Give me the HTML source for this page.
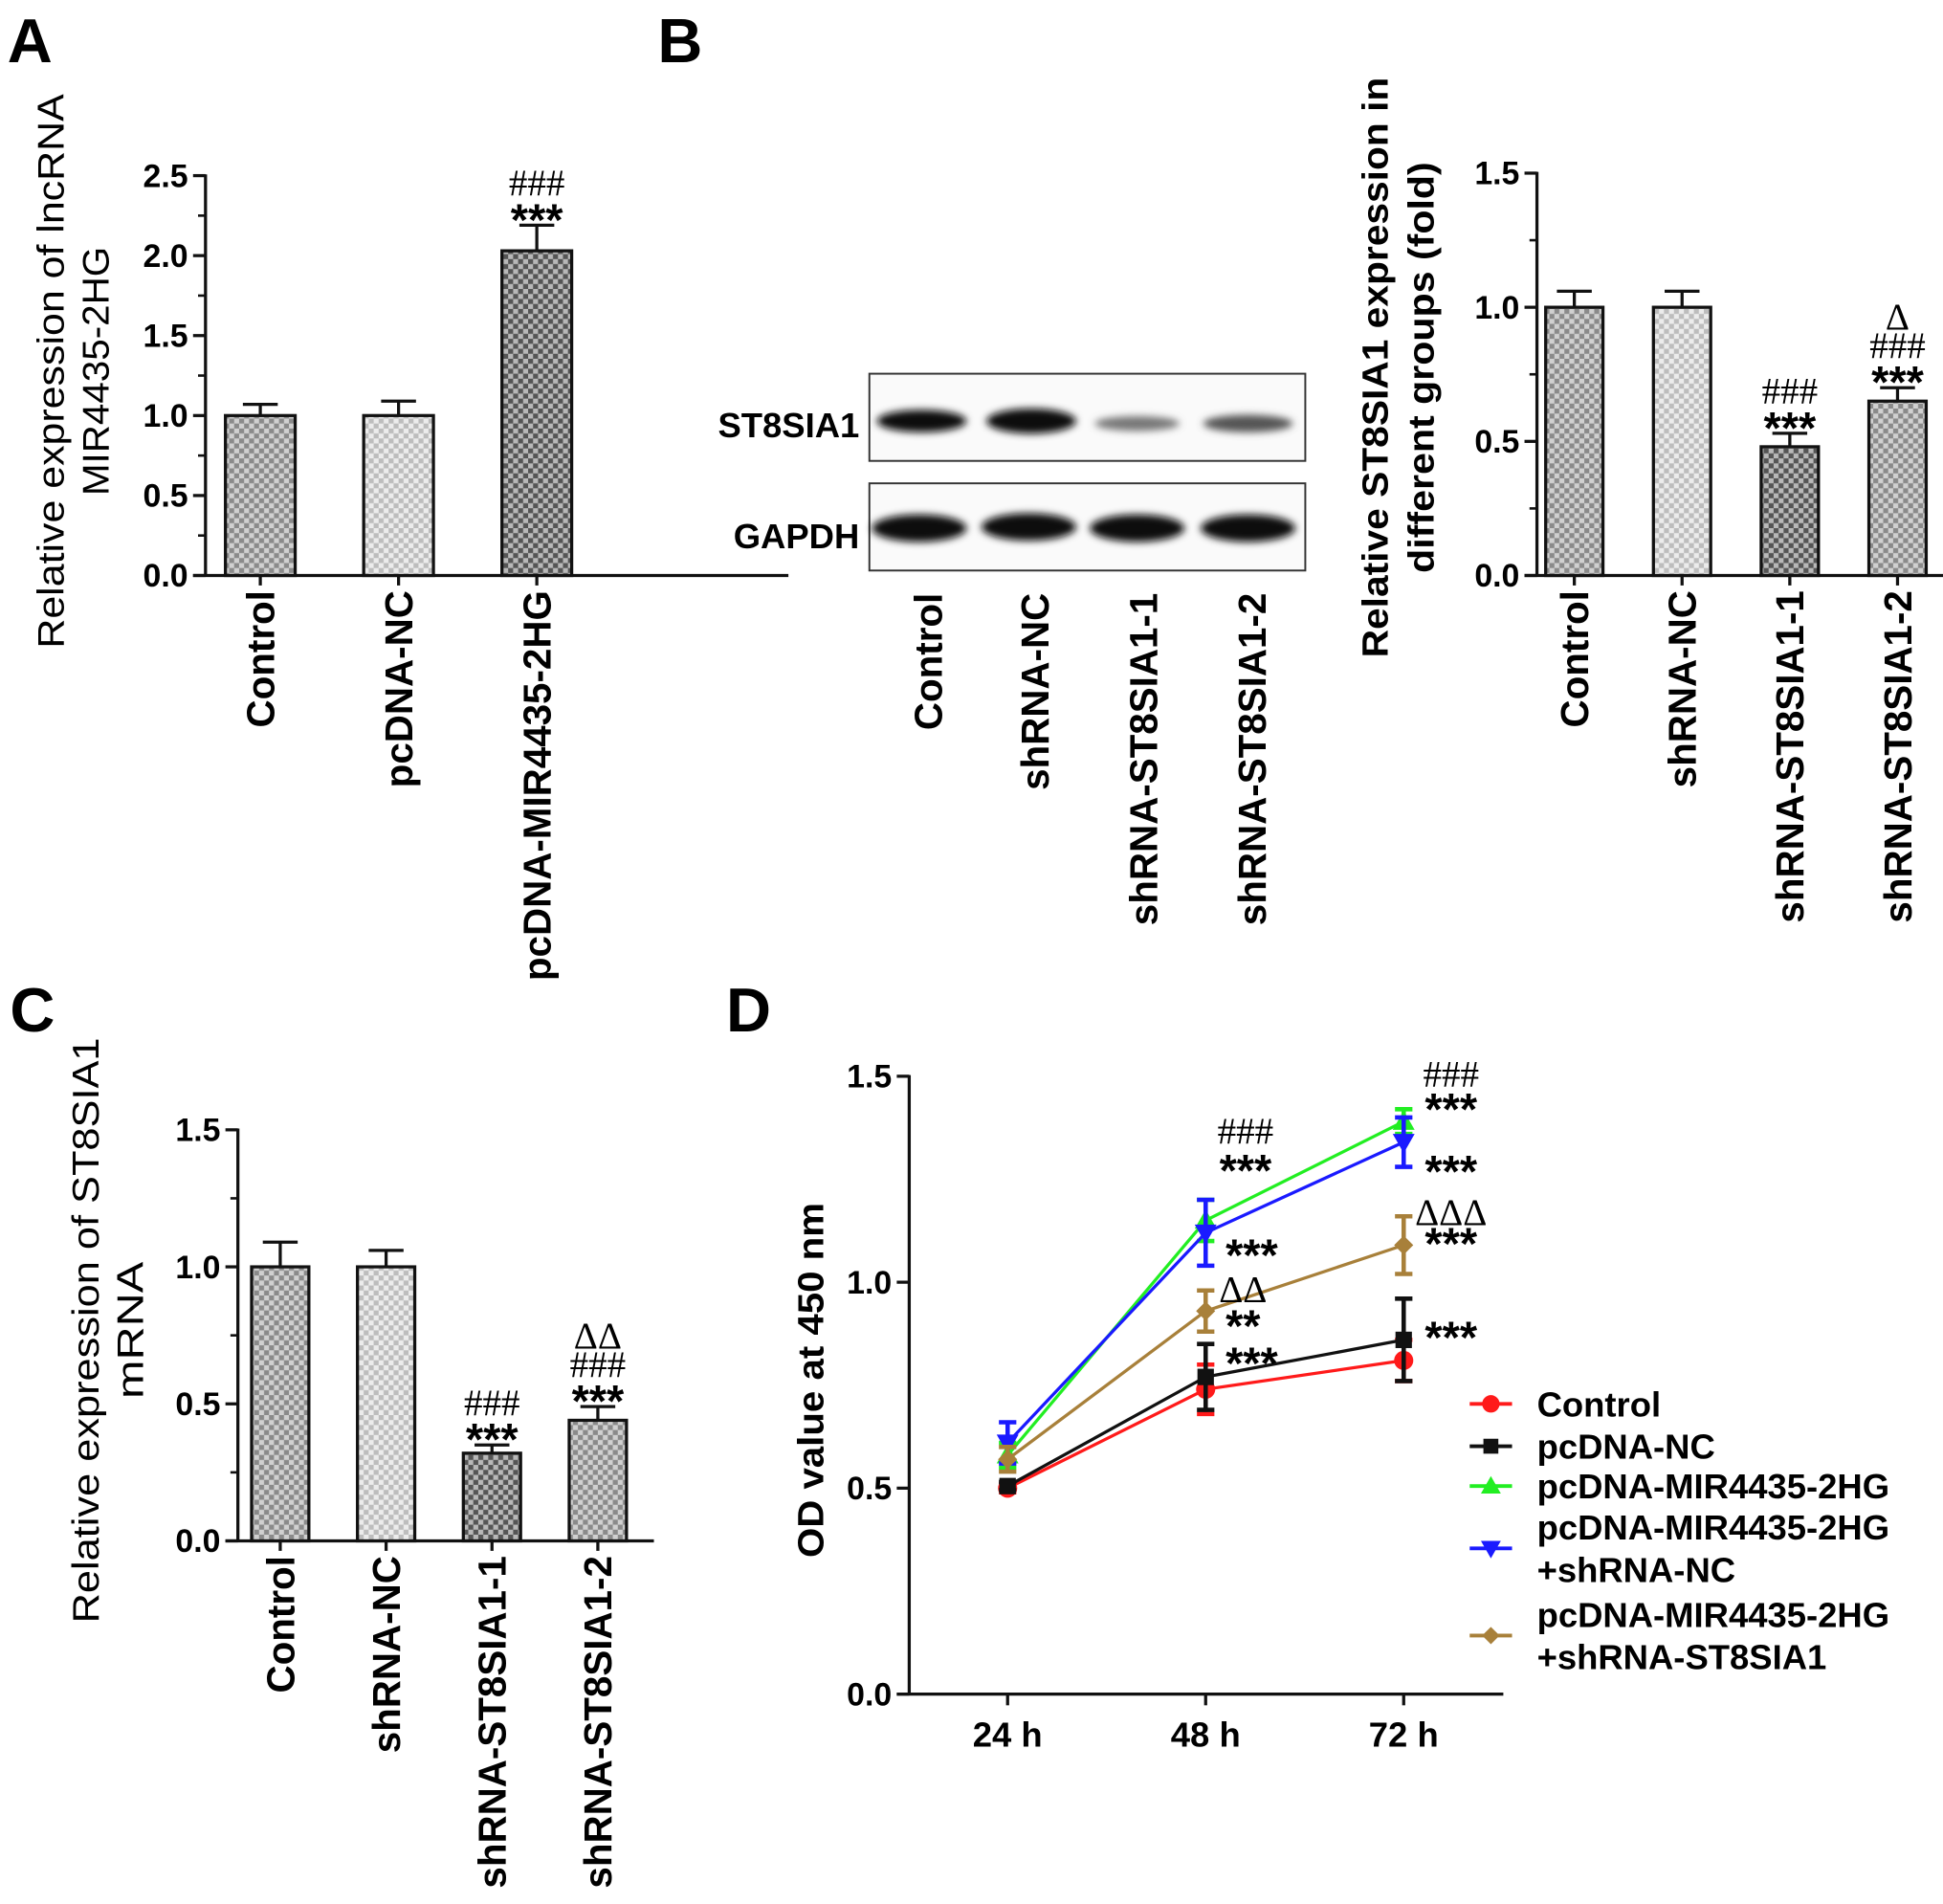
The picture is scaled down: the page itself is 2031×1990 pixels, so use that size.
<!DOCTYPE html>
<html><head><meta charset="utf-8">
<style>
html,body{margin:0;padding:0;background:#fff;}
svg{display:block;font-family:"Liberation Sans",Arial,sans-serif;}
.tick{font-weight:bold;font-size:26px;}
.xl{font-weight:bold;font-size:31px;}
.ttl{font-size:30px;}
.ttlb{font-size:29px;font-weight:bold;}
.pl{font-weight:bold;font-size:50px;}
.ann{font-size:30px;font-family:"Liberation Serif",serif;}
.st{font-size:34px;font-weight:bold;}
</style></head>
<body>
<svg id="fig" width="2031" height="1990" viewBox="0 0 1560 1528.5" xmlns="http://www.w3.org/2000/svg">
<defs>
<pattern id="pMed" width="8" height="8" patternUnits="userSpaceOnUse"><rect width="8" height="8" fill="#d0d0d0"/><rect width="4" height="4" fill="#8a8a8a"/><rect x="4" y="4" width="4" height="4" fill="#8a8a8a"/></pattern>
<pattern id="pLight" width="8" height="8" patternUnits="userSpaceOnUse"><rect width="8" height="8" fill="#ececec"/><rect width="4" height="4" fill="#bdbdbd"/><rect x="4" y="4" width="4" height="4" fill="#bdbdbd"/></pattern>
<pattern id="pDark" width="8" height="8" patternUnits="userSpaceOnUse"><rect width="8" height="8" fill="#b8b8b8"/><rect width="4" height="4" fill="#555"/><rect x="4" y="4" width="4" height="4" fill="#555"/></pattern>
<filter id="blur"><feGaussianBlur stdDeviation="3"/></filter>
</defs>
<text class="pl" x="6" y="50">A</text>
<text class="pl" x="528" y="50">B</text>
<text class="pl" x="8" y="828">C</text>
<text class="pl" x="583" y="828">D</text>

<g>
<rect x="698" y="300" width="350" height="70" fill="#fafafa" stroke="#333" stroke-width="1.5"/>
<rect x="698" y="388" width="350" height="70" fill="#fafafa" stroke="#333" stroke-width="1.5"/>
<text class="st" x="690" y="351" text-anchor="end" style="font-size:28px">ST8SIA1</text>
<text class="st" x="690" y="440" text-anchor="end" style="font-size:28px">GAPDH</text>
<g filter="url(#blur)">
<ellipse cx="740" cy="338" rx="36" ry="9" fill="#111"/>
<ellipse cx="828" cy="338" rx="36" ry="10" fill="#111"/>
<ellipse cx="913" cy="340" rx="34" ry="6" fill="#777"/>
<ellipse cx="1002" cy="340" rx="36" ry="7" fill="#555"/>
<ellipse cx="738" cy="424" rx="38" ry="11" fill="#0a0a0a"/>
<ellipse cx="826" cy="423" rx="38" ry="11" fill="#0a0a0a"/>
<ellipse cx="913" cy="424" rx="38" ry="11" fill="#0a0a0a"/>
<ellipse cx="1002" cy="424" rx="38" ry="11" fill="#0a0a0a"/>
</g>
<text class="xl" transform="translate(756,476) rotate(-90)" text-anchor="end">Control</text>
<text class="xl" transform="translate(842,476) rotate(-90)" text-anchor="end">shRNA-NC</text>
<text class="xl" transform="translate(929,476) rotate(-90)" text-anchor="end">shRNA-ST8SIA1-1</text>
<text class="xl" transform="translate(1016,476) rotate(-90)" text-anchor="end">shRNA-ST8SIA1-2</text>
</g>
<g id="root"></g>
</svg>
<script>
// Panel A data
const aCats = ["Control","pcDNA-NC","pcDNA-MIR4435-2HG"];
const aVals = [1.0, 1.0, 2.03];
const aErr = [0.07, 0.09, 0.16];
const aTicks = ["0.0","0.5","1.0","1.5","2.0","2.5"];
const aAnn = [[], [], ["***","###"]];
// Panel B data
const bCats = ["Control","shRNA-NC","shRNA-ST8SIA1-1","shRNA-ST8SIA1-2"];
const bVals = [1.0, 1.0, 0.48, 0.65];
const bErr = [0.06, 0.06, 0.05, 0.05];
const bTicks = ["0.0","0.5","1.0","1.5"];
const bAnn = [[], [], ["***","###"], ["***","###","\u0394"]];
// Panel C data
const cCats = ["Control","shRNA-NC","shRNA-ST8SIA1-1","shRNA-ST8SIA1-2"];
const cVals = [1.0, 1.0, 0.32, 0.44];
const cErr = [0.09, 0.06, 0.03, 0.05];
const cTicks = ["0.0","0.5","1.0","1.5"];
const cAnn = [[], [], ["***","###"], ["***","###","\u0394\u0394"]];
// Panel D data
const dCats = ["24 h","48 h","72 h"];
const dTicks = ["0.0","0.5","1.0","1.5"];
const dNames = ["Control","pcDNA-NC","pcDNA-MIR4435-2HG","pcDNA-MIR4435-2HG +shRNA-NC","pcDNA-MIR4435-2HG +shRNA-ST8SIA1"];
const dControl = [0.50, 0.74, 0.81];
const dPcNC = [0.505, 0.77, 0.86];
const dMir = [0.58, 1.15, 1.39];
const dMirNC = [0.61, 1.12, 1.34];
const dMirSh = [0.57, 0.93, 1.09];
const dErrControl = [0.01, 0.06, 0.05];
const dErrPcNC = [0.01, 0.08, 0.10];
const dErrMir = [0.03, 0.05, 0.03];
const dErrMirNC = [0.05, 0.08, 0.06];
const dErrMirSh = [0.03, 0.05, 0.07];

const NS="http://www.w3.org/2000/svg";
const root=document.getElementById('root');
function mk(tag,attrs,parent){const e=document.createElementNS(NS,tag);for(const k in attrs)e.setAttribute(k,attrs[k]);(parent||root).appendChild(e);return e;}

function barPanel(cfg){
  const g=mk('g',{});
  
  
  const y=v=>cfg.y0-(v/cfg.ymax)*(cfg.y0-cfg.y1);
  const x=i=>cfg.xs+cfg.step*i;
  const ax=mk('line',{x1:cfg.ax,y1:cfg.y1-1,x2:cfg.ax,y2:cfg.y0,stroke:'#111','stroke-width':2.5},g);
  
  
  const xa=mk('line',{x1:cfg.ax-10,y1:cfg.y0,x2:cfg.xend,y2:cfg.y0,stroke:'#111','stroke-width':2.5},g);
  
  
  const n=cfg.ticks.length;
  for(let i=0;i<n;i++){
    const v=parseFloat(cfg.ticks[i]);
    mk('line',{x1:cfg.ax-10,y1:y(v),x2:cfg.ax,y2:y(v),stroke:'#111','stroke-width':2.5},g);
    if(i<n-1) mk('line',{x1:cfg.ax-6,y1:y(v+cfg.minor),x2:cfg.ax,y2:y(v+cfg.minor),stroke:'#111','stroke-width':2},g);
    const t=mk('text',{x:cfg.ax-14,y:y(v)+9,'text-anchor':'end','class':'tick'},g);
    t.textContent=cfg.ticks[i];
    
    
  }
  for(let i=0;i<cfg.cats.length;i++){
    const cx=x(i),top=y(cfg.vals[i]),et=y(cfg.vals[i]+cfg.err[i]);
    mk('line',{x1:cx,y1:top,x2:cx,y2:et,stroke:'#111','stroke-width':2.5},g);
    mk('line',{x1:cx-14,y1:et,x2:cx+14,y2:et,stroke:'#111','stroke-width':2.5},g);
    const r=mk('rect',{x:cx-cfg.bw/2,y:top,width:cfg.bw,height:cfg.y0-top,fill:'url(#'+cfg.fills[i]+')',stroke:'#111','stroke-width':2.5},g);
    
    
    mk('line',{x1:cx,y1:cfg.y0,x2:cx,y2:cfg.y0+8,stroke:'#111','stroke-width':2.5},g);
    const l=mk('text',{transform:'translate('+(cx+11)+','+(cfg.y0+12)+') rotate(-90)','text-anchor':'end','class':'xl'},g);
    l.textContent=cfg.cats[i];
    
    
    const an=cfg.ann[i];
    const offs=[8,-24,-47];
    for(let k=0;k<an.length;k++){
      const s=an[k];
      const isStar=s[0]==='*';
      const a=mk('text',{x:cx,y:et+offs[k],'text-anchor':'middle','class':isStar?'tick':'ann',style:isStar?'font-size:36px':''},g);
      a.textContent=s;
      
      
    }
  }
  cfg.title.forEach((ln,j)=>{
    const t=mk('text',{transform:'translate('+(cfg.tx+j*cfg.tdx)+','+cfg.ty+') rotate(-90)','text-anchor':'middle','class':cfg.tcls,textLength:cfg.tlen[j],lengthAdjust:'spacingAndGlyphs'},g);
    t.textContent=ln;
    
    
  });
}

barPanel({name:'panel-a-chart',cats:aCats,vals:aVals,err:aErr,ticks:aTicks,ann:aAnn,ymax:2.5,minor:0.25,
  ax:165,y0:462,y1:141,xend:633,xs:209,step:111,bw:56,fills:['pMed','pLight','pDark'],
  title:['Relative expression of lncRNA','MIR4435-2HG'],tlen:[445,200],tx:51,tdx:36,ty:298,tcls:'ttl'});
barPanel({name:'panel-b-chart',cats:bCats,vals:bVals,err:bErr,ticks:bTicks,ann:bAnn,ymax:1.5,minor:0.25,
  ax:1234,y0:462,y1:139,xend:1560,xs:1264,step:86.5,bw:46,fills:['pMed','pLight','pDark','pMed'],
  title:['Relative ST8SIA1 expression in','different groups (fold)'],tlen:[466,330],tx:1114,tdx:37,ty:295,tcls:'ttlb'});
barPanel({name:'panel-c-chart',cats:cCats,vals:cVals,err:cErr,ticks:cTicks,ann:cAnn,ymax:1.5,minor:0.25,
  ax:191,y0:1237,y1:907,xend:525,xs:225,step:85,bw:46,fills:['pMed','pLight','pDark','pMed'],
  title:['Relative expression of ST8SIA1','mRNA'],tlen:[470,110],tx:79,tdx:36,ty:1068,tcls:'ttl'});

// Panel D
(function(){
  const g=mk('g',{});
  
  
  const y0=1360,y1=864,ax=730;
  const y=v=>y0-(v/1.5)*(y0-y1);
  const x=i=>809+159*i;
  const ya=mk('line',{x1:ax,y1:y1-1,x2:ax,y2:y0,stroke:'#111','stroke-width':2.5},g);
  
  
  const xa=mk('line',{x1:ax-10,y1:y0,x2:1207,y2:y0,stroke:'#111','stroke-width':2.5},g);
  
  
  for(let i=0;i<dTicks.length;i++){
    const v=parseFloat(dTicks[i]);
    mk('line',{x1:ax-10,y1:y(v),x2:ax,y2:y(v),stroke:'#111','stroke-width':2.5},g);
    const t=mk('text',{x:ax-14,y:y(v)+9,'text-anchor':'end','class':'tick'},g);
    t.textContent=dTicks[i];
    
    
  }
  for(let i=0;i<dCats.length;i++){
    mk('line',{x1:x(i),y1:y0,x2:x(i),y2:y0+9,stroke:'#111','stroke-width':2.5},g);
    const t=mk('text',{x:x(i),y:y0+42,'text-anchor':'middle','class':'tick',style:'font-size:28px'},g);
    t.textContent=dCats[i];
    
    
  }
  const tt=mk('text',{transform:'translate(661,1108) rotate(-90)','text-anchor':'middle','class':'ttlb',textLength:285,lengthAdjust:'spacingAndGlyphs'},g);
  tt.textContent='OD value at 450 nm';
  
  
  const series=[dControl,dPcNC,dMir,dMirNC,dMirSh];
  const errs=[dErrControl,dErrPcNC,dErrMir,dErrMirNC,dErrMirSh];
  const cols=['#ff1a1a','#111','#22ee22','#1a1aff','#a8803a'];
  const shapes=['circle','square','up','down','diamond'];
  function marker(shape,cx,cy,c,s){
    if(shape==='circle') return mk('circle',{cx:cx,cy:cy,r:s*0.7,fill:c},g);
    if(shape==='square') return mk('rect',{x:cx-s*0.6,y:cy-s*0.6,width:s*1.2,height:s*1.2,fill:c},g);
    if(shape==='up') return mk('polygon',{points:`${cx},${cy-s*0.8} ${cx-s*0.8},${cy+s*0.6} ${cx+s*0.8},${cy+s*0.6}`,fill:c},g);
    if(shape==='down') return mk('polygon',{points:`${cx},${cy+s*0.8} ${cx-s*0.8},${cy-s*0.6} ${cx+s*0.8},${cy-s*0.6}`,fill:c},g);
    return mk('polygon',{points:`${cx},${cy-s*0.7} ${cx+s*0.7},${cy} ${cx},${cy+s*0.7} ${cx-s*0.7},${cy}`,fill:c},g);
  }
  for(let s=0;s<series.length;s++){
    const d=series[s];
    const pts=d.map((v,i)=>x(i)+','+y(v)).join(' ');
    const pl=mk('polyline',{points:pts,fill:'none',stroke:cols[s],'stroke-width':2.5},g);
    
    
    for(let i=0;i<d.length;i++){
      const e=errs[s][i];
      mk('line',{x1:x(i),y1:y(d[i]-e),x2:x(i),y2:y(d[i]+e),stroke:cols[s],'stroke-width':3.5},g);
      mk('line',{x1:x(i)-7,y1:y(d[i]-e),x2:x(i)+7,y2:y(d[i]-e),stroke:cols[s],'stroke-width':3.5},g);
      mk('line',{x1:x(i)-7,y1:y(d[i]+e),x2:x(i)+7,y2:y(d[i]+e),stroke:cols[s],'stroke-width':3.5},g);
      const m=marker(shapes[s],x(i),y(d[i]),cols[s],11);
      
      
    }
  }
  const anns=[[1000,918,'###',0],[1000,952,'***',1],[1005,1020,'***',1],[998,1045,'\u0394\u0394',0],[998,1077,'**',1],[1005,1107,'***',1],
              [1165,872,'###',0],[1165,903,'***',1],[1165,953,'***',1],[1165,983,'\u0394\u0394\u0394',0],[1165,1011,'***',1],[1165,1086,'***',1]];
  anns.forEach(a=>{
    const t=mk('text',{x:a[0],y:a[1],'text-anchor':'middle','class':a[3]?'tick':'ann',style:a[3]?'font-size:36px':''},g);
    t.textContent=a[2];
    
    
  });
  const lg=mk('g',{},g);
  
  
  const ly=[1127,1161,1193,1243,1313];
  for(let s=0;s<dNames.length;s++){
    mk('line',{x1:1180,y1:ly[s],x2:1214,y2:ly[s],stroke:cols[s],'stroke-width':3},lg);
    marker(shapes[s],1197,ly[s],cols[s],10);
    const parts=dNames[s].split(' ');
    const t=mk('text',{x:1234,y:ly[s]+10-(parts.length-1)*17,'class':'tick',style:'font-size:28px'},lg);
    
    
    parts.forEach((p,j)=>{const ts=mk('tspan',{x:1234,dy:j?34:0},t);ts.textContent=p;});
  }
})();
</script>
</body></html>
